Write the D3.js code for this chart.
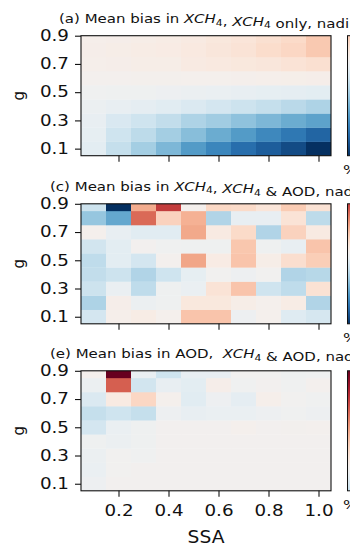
<!DOCTYPE html>
<html>
<head>
<meta charset="utf-8">
<script src="https://cdn.jsdelivr.net/npm/d3@7"></script>
<style>
  body { margin: 0; background: #fff; }
  svg text { font-family: "DejaVu Sans", sans-serif; fill: #111; white-space: pre; }
</style>
</head>
<body>
<svg id="chart" width="350" height="546"></svg>
<script>
// Grid of single-scattering albedo (columns) and asymmetry parameter (rows)
const ssa = [0.1, 0.2, 0.3, 0.4, 0.5, 0.6, 0.7, 0.8, 0.9, 1.0];
const gVals = [0.1, 0.2, 0.3, 0.4, 0.5, 0.6, 0.7, 0.8, 0.9];

const xTicks = [0.2, 0.4, 0.6, 0.8, 1.0];
const yTicks = [0.1, 0.3, 0.5, 0.7, 0.9];

// Mean bias (%), one row per g value (g = 0.1 first), one entry per SSA
const biasXch4Only = [
  [-0.10, -0.23, -0.34, -0.45, -0.57, -0.66, -0.76, -0.83, -0.90, -1.00],
  [-0.08, -0.19, -0.26, -0.34, -0.42, -0.50, -0.57, -0.65, -0.72, -0.80],
  [-0.07, -0.15, -0.19, -0.24, -0.31, -0.35, -0.40, -0.45, -0.50, -0.54],
  [-0.05, -0.07, -0.09, -0.11, -0.14, -0.17, -0.20, -0.23, -0.27, -0.31],
  [-0.02, -0.03, -0.03, -0.04, -0.05, -0.06, -0.07, -0.08, -0.09, -0.10],
  [0.010, 0.010, 0.015, 0.015, 0.020, 0.020, 0.025, 0.030, 0.035, 0.040],
  [0.03, 0.04, 0.05, 0.05, 0.08, 0.09, 0.10, 0.11, 0.13, 0.15],
  [0.04, 0.05, 0.06, 0.07, 0.09, 0.11, 0.13, 0.17, 0.20, 0.26],
  [0.03, 0.04, 0.05, 0.06, 0.08, 0.10, 0.12, 0.15, 0.18, 0.26]
];

const biasXch4Joint = [
  [-0.17, 0.03, 0.06, 0.02, 0.28, 0.28, -0.04, 0.02, -0.12, -0.16],
  [-0.31, 0.04, -0.05, -0.03, 0.10, 0.10, 0.05, 0.02, 0.06, -0.30],
  [-0.20, -0.06, -0.25, -0.03, -0.06, 0.13, 0.28, -0.19, -0.25, 0.14],
  [-0.24, -0.20, -0.30, -0.19, -0.08, -0.01, -0.04, -0.01, -0.30, -0.28],
  [-0.25, -0.10, -0.17, 0.01, 0.39, 0.07, 0.28, 0.05, 0.16, 0.24],
  [-0.18, -0.10, 0.00, -0.02, -0.03, -0.03, 0.27, -0.03, -0.07, 0.28],
  [0.02, -0.07, -0.11, -0.11, 0.38, 0.08, 0.18, -0.30, 0.22, 0.08],
  [-0.38, -0.52, 0.57, 0.22, 0.35, -0.30, -0.07, -0.07, 0.13, -0.26],
  [-0.20, -1.00, 0.37, 0.70, 0.02, 0.19, 0.18, 0.12, 0.25, 0.14]
];

const biasAodJoint = [
  [-0.04, 0.00, 0.00, 0.00, 0.00, 0.00, 0.00, 0.00, 0.00, 0.00],
  [-0.06, -0.01, 0.00, 0.00, 0.00, 0.00, 0.00, 0.00, 0.00, 0.00],
  [-0.05, -0.01, -0.02, 0.00, 0.00, 0.00, 0.00, 0.00, 0.00, 0.00],
  [-0.03, -0.05, -0.03, 0.00, 0.00, 0.00, 0.00, 0.00, 0.00, 0.00],
  [-0.17, -0.06, -0.03, 0.00, 0.00, 0.00, 0.02, 0.00, 0.005, 0.01],
  [-0.23, -0.19, -0.23, -0.04, -0.07, -0.06, -0.06, -0.04, -0.02, -0.04],
  [-0.14, 0.08, 0.20, 0.02, -0.11, -0.04, -0.09, 0.03, -0.01, -0.02],
  [-0.05, 0.60, -0.18, -0.07, -0.10, 0.04, -0.02, 0.00, -0.02, 0.01],
  [0.02, 1.00, -0.06, -0.19, -0.07, -0.07, -0.01, -0.01, -0.03, -0.02]
];

// Title pieces: plain text, italic "XCH", subscript "4"
const titleA = [["(a) Mean bias in "], ["XCH", "i"], ["4", "s"], [", "], ["XCH", "i"], ["4", "s"], [" only, nadir"]];
const titleC = [["(c) Mean bias in "], ["XCH", "i"], ["4", "s"], [", "], ["XCH", "i"], ["4", "s"], [" & AOD, nadir"]];
const titleE = [["(e) Mean bias in AOD,  "], ["XCH", "i"], ["4", "s"], [" & AOD, nadir"]];

const panels = [
  { data: biasXch4Only, title: titleA, top: 35.7, titleX: 59, titleY: 23.3, xLabels: false, unit: "%" },
  { data: biasXch4Joint, title: titleC, top: 203.8, titleX: 50, titleY: 190.7, xLabels: false, unit: "%" },
  { data: biasAodJoint, title: titleE, top: 370.8, titleX: 50, titleY: 358.3, xLabels: true, unit: "%" }
];

// text is drawn slightly wide
const SX = 1.22;

const svg = d3.select("#chart");
svg.append("rect").attr("width", 350).attr("height", 546).attr("fill", "#fff");

const plotLeft = 81, plotRight = 331, plotH = 120;
const x = d3.scaleLinear().domain([0.05, 1.05]).range([plotLeft, plotRight]);
const defs = svg.append("defs");

panels.forEach((p, pi) => {
  const y = d3.scaleLinear().domain([0.05, 0.9]).range([p.top + plotH, p.top]);
  const flat = p.data.flat();
  const m = d3.max(flat, v => Math.abs(v));
  const color = d3.scaleDiverging(t => d3.interpolateRdBu(1 - t)).domain([-m, 0, m]);

  const g = svg.append("g");

  // clip cells to the plotting area
  defs.append("clipPath").attr("id", "clip" + pi)
    .append("rect").attr("x", plotLeft).attr("y", p.top)
    .attr("width", plotRight - plotLeft).attr("height", plotH);

  const cells = [];
  p.data.forEach((row, ri) => row.forEach((v, ci) => cells.push({ s: ssa[ci], g: gVals[ri], v })));

  g.append("g").attr("clip-path", `url(#clip${pi})`)
    .selectAll("rect").data(cells).join("rect")
    .attr("x", d => x(d.s - 0.05))
    .attr("width", d => x(d.s + 0.05) - x(d.s - 0.05) + 0.3)
    .attr("y", d => y(d.g + 0.05))
    .attr("height", d => y(d.g - 0.05) - y(d.g + 0.05) + 0.3)
    .attr("fill", d => color(d.v));

  // frame
  g.append("rect").attr("x", plotLeft).attr("y", p.top)
    .attr("width", plotRight - plotLeft).attr("height", plotH)
    .attr("fill", "none").attr("stroke", "#111").attr("stroke-width", 1.1);

  // axes
  const yAxis = d3.axisLeft(y).tickValues(yTicks).tickFormat(d3.format(".1f"))
    .tickSize(6).tickPadding(6);
  const ya = g.append("g").attr("transform", `translate(${plotLeft},0)`).call(yAxis);
  ya.select(".domain").remove();
  ya.selectAll("line").attr("stroke", "#111").attr("stroke-width", 1.1);
  ya.selectAll("text").attr("font-size", 15).attr("fill", "#111")
    .attr("x", -12 / SX).attr("transform", `scale(${SX},1)`)
    .style("font-family", '"DejaVu Sans", sans-serif');

  const xAxis = d3.axisBottom(x).tickValues(xTicks)
    .tickFormat(p.xLabels ? d3.format(".1f") : () => "")
    .tickSize(6).tickPadding(9);
  const xa = g.append("g").attr("transform", `translate(0,${p.top + plotH})`).call(xAxis);
  xa.select(".domain").remove();
  xa.selectAll("line").attr("stroke", "#111").attr("stroke-width", 1.1);
  xa.selectAll("text").attr("font-size", 15).attr("fill", "#111")
    .attr("transform", `scale(${SX},1)`)
    .style("font-family", '"DejaVu Sans", sans-serif');

  // y label
  g.append("text")
    .attr("transform", `translate(24,${p.top + plotH / 2}) rotate(-90)`)
    .attr("text-anchor", "middle").attr("font-size", 15).text("g");

  // title
  const t = g.append("text")
    .attr("transform", `translate(${p.titleX},${p.titleY}) scale(${SX},1)`)
    .attr("font-size", 12.3);
  p.title.forEach(([s, kind]) => {
    if (kind === "s") {
      t.append("tspan").attr("font-size", 8.8).attr("dy", 2.4).text(s);
      t.append("tspan").attr("dy", -2.4).text("");
    } else if (kind === "i") {
      t.append("tspan").attr("font-style", "italic").text(s);
    } else {
      t.append("tspan").text(s);
    }
  });

  // colorbar over the data range
  const [lo, hi] = d3.extent(flat);
  const gradId = "cbar" + pi;
  const grad = defs.append("linearGradient").attr("id", gradId)
    .attr("x1", 0).attr("y1", 1).attr("x2", 0).attr("y2", 0);
  d3.range(0, 1.0001, 0.05).forEach(f => {
    grad.append("stop").attr("offset", f).attr("stop-color", color(lo + f * (hi - lo)));
  });
  g.append("rect").attr("x", 347.5).attr("y", p.top).attr("width", 12).attr("height", plotH)
    .attr("fill", `url(#${gradId})`).attr("stroke", "#111").attr("stroke-width", 1);

  g.append("text")
    .attr("transform", `translate(343,${p.top + plotH + 18}) scale(${SX},1)`)
    .attr("font-size", 13).text(p.unit);
});

// shared x label
svg.append("text")
  .attr("transform", `translate(${x(0.55)},543) scale(1.1,1)`)
  .attr("text-anchor", "middle")
  .attr("font-size", 17).text("SSA");
</script>
</body>
</html>
